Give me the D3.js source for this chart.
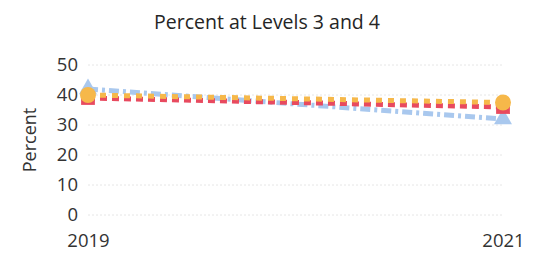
<!DOCTYPE html>
<html>
<head>
<meta charset="utf-8">
<script src="https://cdn.jsdelivr.net/npm/d3@7"></script>
<style>
  body { margin: 0; background: #fff; }
  text { font-family: "Open Sans", "Noto Sans", sans-serif; }
</style>
</head>
<body>
<div id="chart"></div>
<script>
document.addEventListener("DOMContentLoaded", function() {

  const years = ["2019", "2021"];
  const yTicks = [0, 10, 20, 30, 40, 50];
  const seriesNames = ["Blue", "Red", "Orange"];
  const blueValues = [42, 32];
  const redValues = [39, 36];
  const orangeValues = [40, 37.5];

  const series = [
    { name: seriesNames[0], values: blueValues, color: "#a9c8ee", dash: "10,4,3,4", shape: d3.symbolTriangle, size: 140 },
    { name: seriesNames[1], values: redValues, color: "#e84a5f", dash: "7,5", shape: d3.symbolSquare, size: 190 },
    { name: seriesNames[2], values: orangeValues, color: "#f6b84a", dash: "6,6", shape: d3.symbolCircle, size: 200 }
  ];

  const width = 538, height = 258;
  const margin = { top: 65, right: 35, bottom: 43, left: 88 };

  const svg = d3.select("#chart").append("svg")
      .attr("width", width)
      .attr("height", height);

  const x = d3.scalePoint().domain(years).range([margin.left, width - margin.right]);
  const y = d3.scaleLinear().domain([0, 50]).range([height - margin.bottom, margin.top]);

  // title
  svg.append("text")
      .attr("x", 267)
      .attr("y", 29)
      .attr("text-anchor", "middle")
      .style("font-size", "19.5px")
      .style("fill", "#252525")
      .text("Percent at Levels 3 and 4");

  // gridlines
  svg.append("g").selectAll("line")
      .data(yTicks)
      .enter().append("line")
      .attr("x1", margin.left)
      .attr("x2", width - margin.right)
      .attr("y1", d => y(d))
      .attr("y2", d => y(d))
      .attr("stroke", "#e6e6e6")
      .attr("stroke-dasharray", "2,2");

  // y axis
  const yAxis = svg.append("g")
      .attr("transform", `translate(${margin.left - 10},0)`)
      .call(d3.axisLeft(y).tickValues(yTicks).tickSize(0).tickPadding(0));
  yAxis.select(".domain").remove();
  yAxis.selectAll("text").style("font-size", "18.5px").style("fill", "#333");

  // x axis
  const xAxis = svg.append("g")
      .attr("transform", `translate(0,${height - margin.bottom + 11})`)
      .call(d3.axisBottom(x).tickSize(0).tickPadding(8));
  xAxis.select(".domain").remove();
  xAxis.selectAll("text").style("font-size", "18.5px").style("fill", "#333");

  svg.append("text")
      .attr("transform", `translate(36,${(margin.top + height - margin.bottom) / 2}) rotate(-90)`)
      .attr("text-anchor", "middle")
      .style("font-size", "18px")
      .style("fill", "#333")
      .text("Percent");

  const line = d3.line()
      .x((d, i) => x(years[i]))
      .y(d => y(d));

  series.forEach(s => {
    svg.append("path")
        .datum(s.values)
        .attr("d", line)
        .attr("fill", "none")
        .attr("stroke", s.color)
        .attr("stroke-width", 5)
        .attr("stroke-dasharray", s.dash);

    svg.append("g").selectAll("path")
        .data(s.values)
        .enter().append("path")
        .attr("transform", (d, i) => `translate(${x(years[i])},${y(d)})`)
        .attr("d", d3.symbol().type(s.shape).size(s.size))
        .attr("fill", s.color);
  });
});
</script>
</body>
</html>
